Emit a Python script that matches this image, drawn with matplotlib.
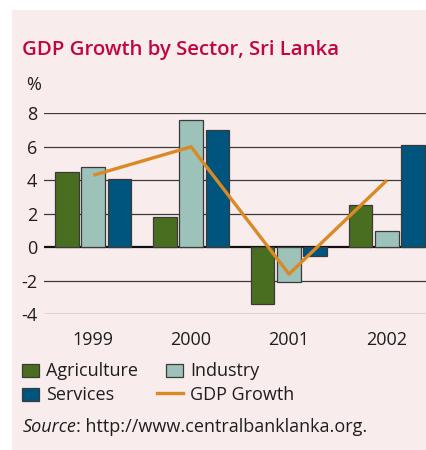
import matplotlib
matplotlib.use("Agg")
import matplotlib.pyplot as plt
from matplotlib.patches import Rectangle
from matplotlib.lines import Line2D
import numpy as np

# GDP growth by sector, Sri Lanka (%)
years = ["1999", "2000", "2001", "2002"]
agriculture = [4.5, 1.8, -3.4, 2.5]
industry = [4.8, 7.6, -2.1, 1.0]
services = [4.1, 7.0, -0.5, 6.1]
gdp_growth = [4.3, 6.0, -1.6, 4.0]
y_ticks = [-4, -2, 0, 2, 4, 6, 8]

FONT = "Open Sans"
C_AGR = "#4a6e1f"
C_IND = "#9cc2ba"
C_SER = "#00557f"
C_GDP = "#d98a24"
C_BG = "#f9ecec"
C_TITLE = "#c0073f"
C_EDGE = "#3a3a3a"
C_TEXT = "#1e1e1e"
FS = 13

W, H = 426, 450
fig = plt.figure(figsize=(W / 100, H / 100), dpi=100, facecolor="white")

# pink panel behind everything
fig.add_artist(Rectangle((12 / W, 0), 1 - 12 / W, 1 - 10 / H,
                         transform=fig.transFigure, facecolor=C_BG,
                         edgecolor="none", zorder=-10))

ax = fig.add_axes([44.3 / W, 1 - 314.3 / H, 1 - 44.3 / W, (314.3 - 113.3) / H])
ax.set_facecolor("none")
for s in ax.spines.values():
    s.set_visible(False)

x = np.arange(len(years))
bw = 0.24
step = 0.268
for off, vals, col in [(-step, agriculture, C_AGR), (0, industry, C_IND), (step, services, C_SER)]:
    ax.bar(x + off, vals, width=bw, color=col, edgecolor=C_EDGE, linewidth=0.9, zorder=3)

ax.plot(x, gdp_growth, color=C_GDP, linewidth=2.4, solid_capstyle="butt", zorder=4)

for t in y_ticks:
    if t == 0:
        ax.axhline(t, color="#111111", linewidth=1.6, zorder=2.5)
    else:
        ax.axhline(t, color="#3a3a3a", linewidth=0.9, zorder=1)

ax.set_xlim(-0.5, 3.4)
ax.set_ylim(-4, 8)
ax.set_yticks(y_ticks)
ax.set_yticklabels([str(t) for t in y_ticks], fontfamily=FONT, fontsize=FS, color=C_TEXT)
ax.tick_params(axis="y", length=0, pad=5)
ax.set_xticks(x)
ax.set_xticklabels(years, fontfamily=FONT, fontsize=FS, color=C_TEXT)
ax.tick_params(axis="x", length=0, pad=12)

# title and unit
fig.text(22.5 / W, 1 - 54.5 / H, "GDP Growth by Sector, Sri Lanka", fontfamily=FONT,
         fontweight="semibold", fontsize=14.7, color=C_TITLE, ha="left", va="baseline")
fig.text(26 / W, 1 - 90 / H, "%", fontfamily=FONT, fontsize=FS, color=C_TEXT,
         ha="left", va="baseline")

# legend
def legend_patch(x0, y0, col):
    fig.add_artist(Rectangle((x0 / W, 1 - (y0 + 13) / H), 17 / W, 13 / H,
                             transform=fig.transFigure, facecolor=col,
                             edgecolor=C_EDGE, linewidth=0.9))

legend_patch(22, 364, C_AGR)
legend_patch(166, 364, C_IND)
legend_patch(22, 387.5, C_SER)
fig.add_artist(Line2D([157 / W, 183 / W], [1 - 392.5 / H, 1 - 392.5 / H],
                      transform=fig.transFigure, color=C_GDP, linewidth=2.4))
for tx, ty, lab in [(46, 376.5, "Agriculture"), (190, 376.5, "Industry"),
                    (46, 400, "Services"), (190, 400, "GDP Growth")]:
    fig.text(tx / W, 1 - ty / H, lab, fontfamily=FONT, fontsize=FS, color=C_TEXT,
             ha="left", va="baseline")

# source note: italic word followed by the address
src = fig.text(22.5 / W, 1 - 432 / H, "Source", fontfamily=FONT, fontstyle="italic",
               fontsize=FS, color=C_TEXT, ha="left", va="baseline")
fig.canvas.draw()
bb = src.get_window_extent()
fig.text(bb.x1 / W, 1 - 432 / H, ": http://www.centralbanklanka.org.", fontfamily=FONT,
         fontsize=FS, color=C_TEXT, ha="left", va="baseline")

fig.savefig("out.png", dpi=100, facecolor="white")
